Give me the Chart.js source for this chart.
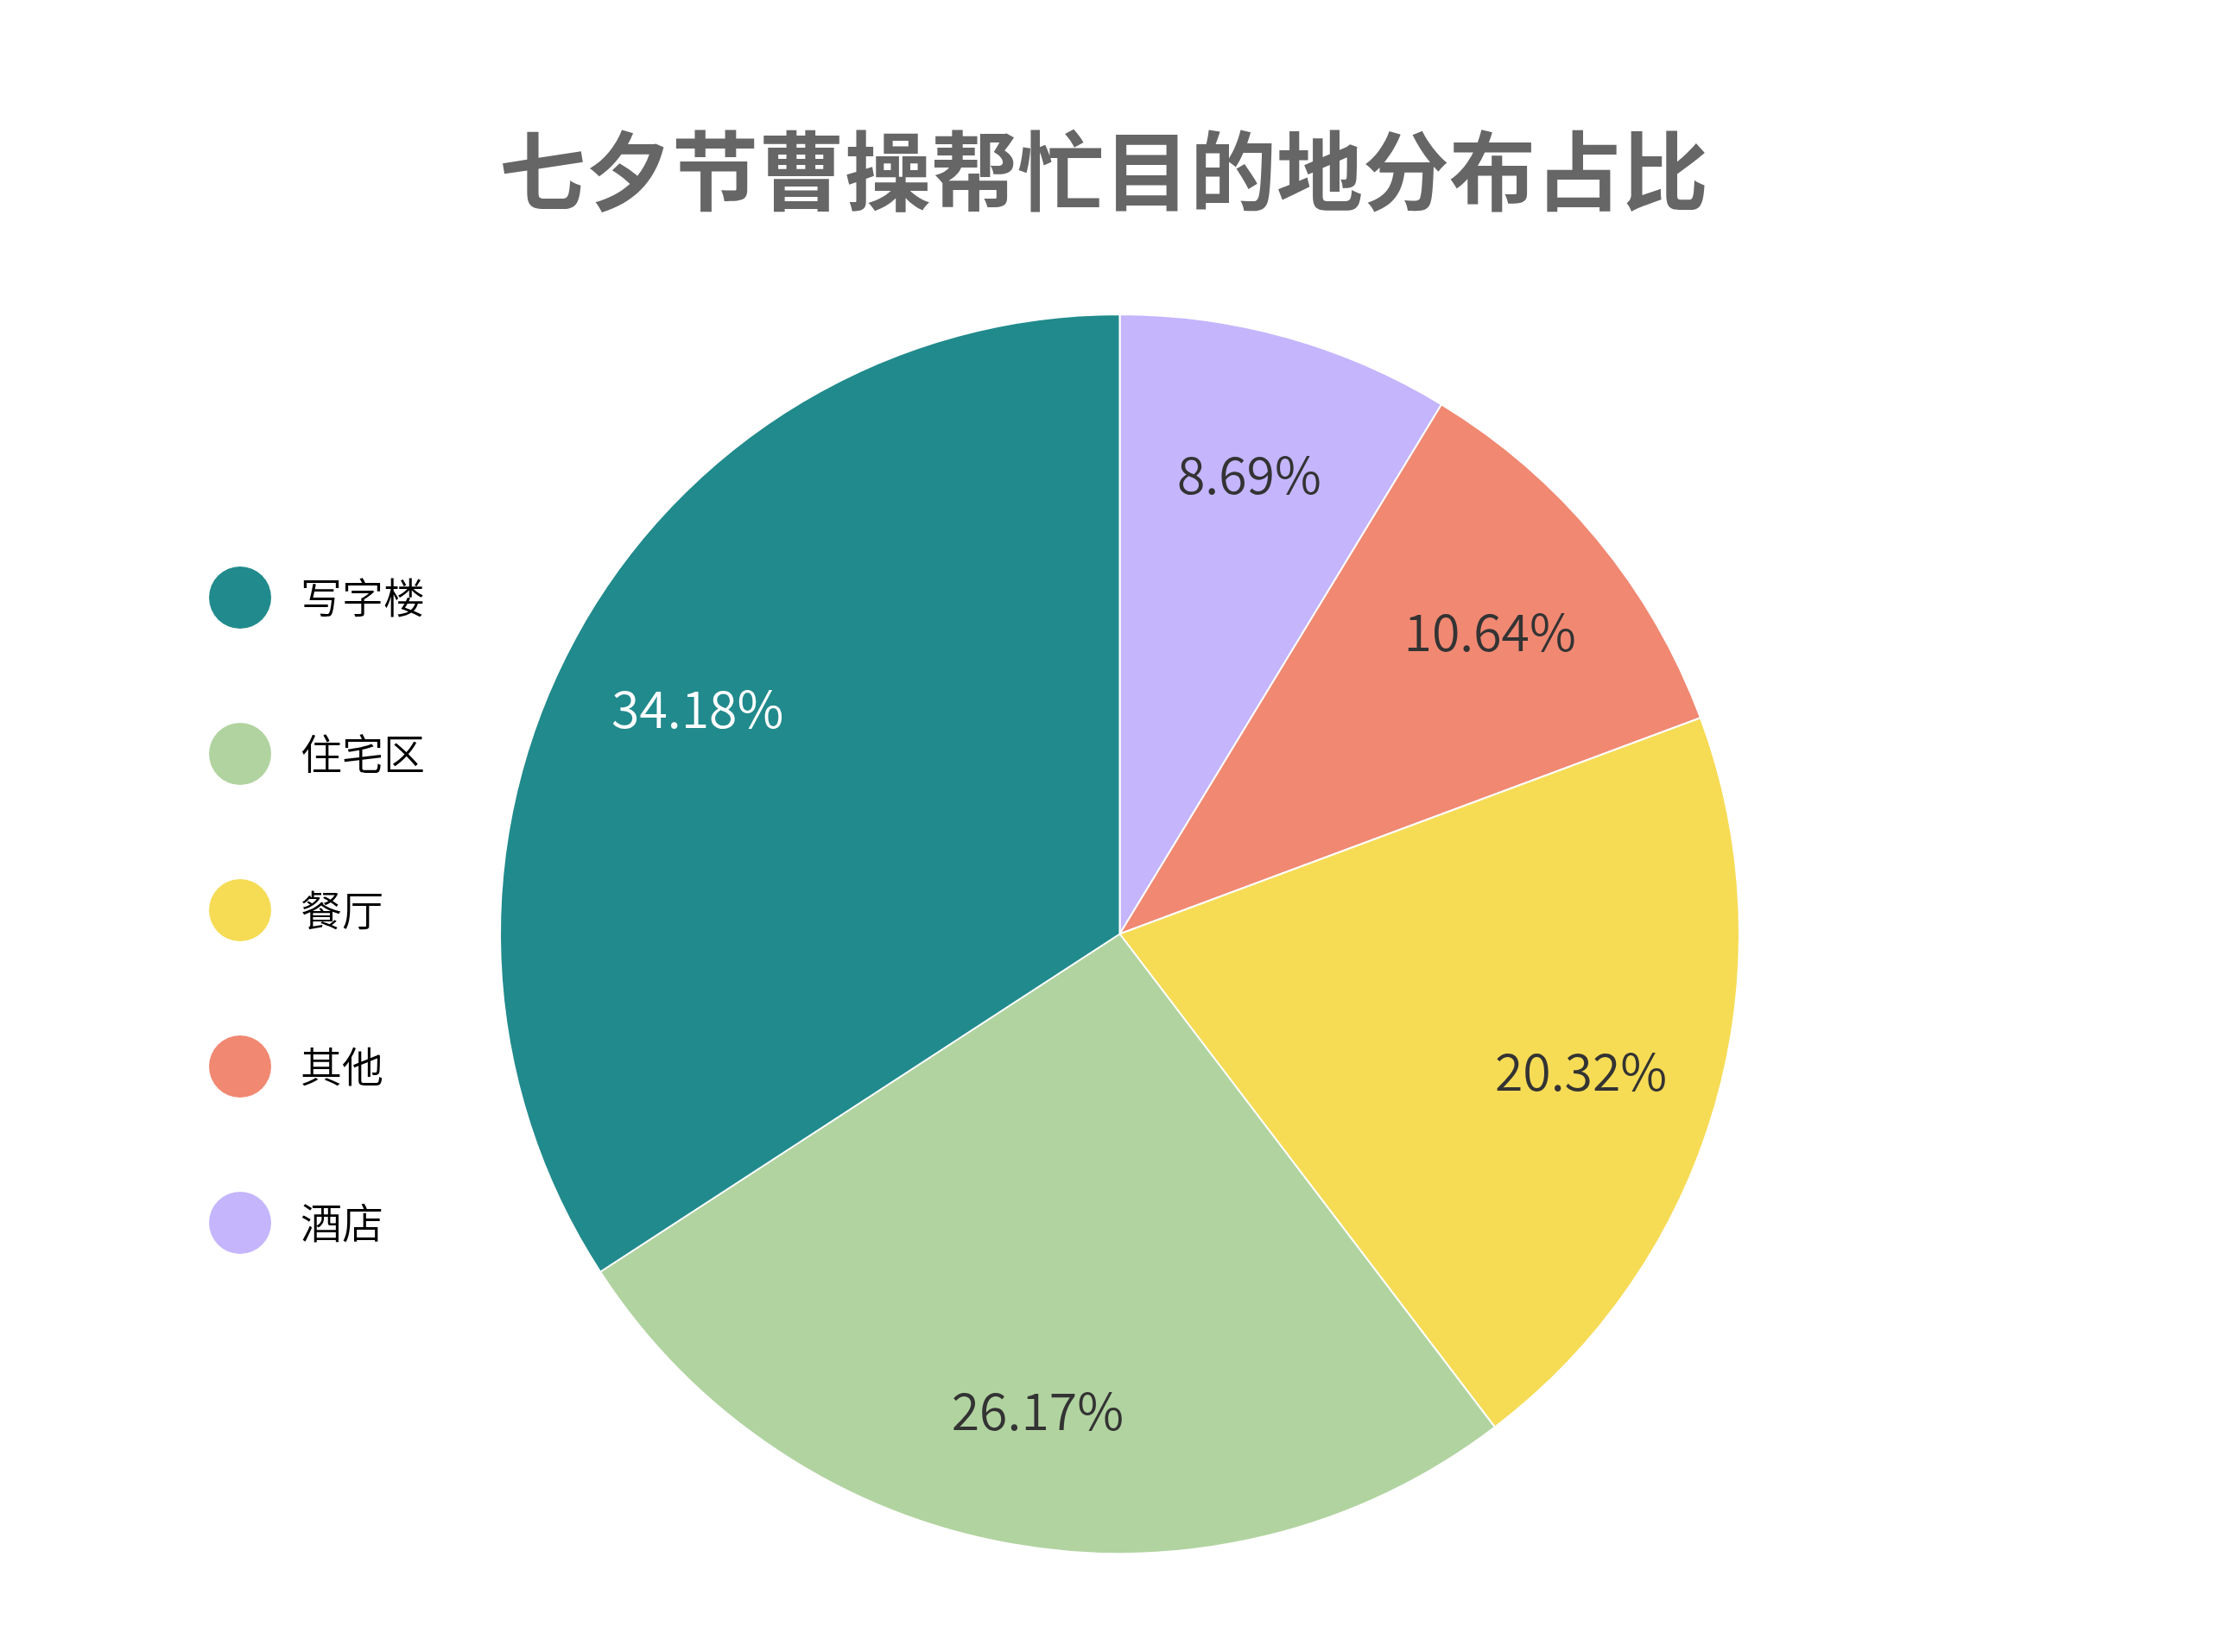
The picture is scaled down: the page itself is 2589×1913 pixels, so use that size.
<!DOCTYPE html>
<html>
<head>
<meta charset="utf-8">
<script src="https://cdn.jsdelivr.net/npm/chart.js@4.4.1/dist/chart.umd.min.js"></script>
<style>
  html, body { margin: 0; padding: 0; background: #ffffff; }
  canvas { display: block; }
</style>
</head>
<body>
<canvas id="c" width="2589" height="1913"></canvas>
<script>
// ---- data (legend order) ----
const categories = ['写字楼', '住宅区', '餐厅', '其他', '酒店'];
const shares = [34.18, 26.17, 20.32, 10.64, 8.69];
const sliceColors = ['#218A8C', '#B1D3A0', '#F6DB55', '#F08872', '#C4B5FD'];
const labelColors = ['#ffffff', '#333333', '#333333', '#333333', '#333333'];
const titleText = '七夕节曹操帮忙目的地分布占比';

// slices run counter-clockwise from 12 o'clock: feed the library the reversed order
const rev = a => a.slice().reverse();
const chartLabels = rev(categories);
const chartValues = rev(shares);
const chartColors = rev(sliceColors);
const chartLabelColors = rev(labelColors);

const FONT = '"Noto Sans CJK SC", "Noto Sans", sans-serif';

function makeDot(color) {
  const c = document.createElement('canvas');
  c.width = 72; c.height = 72;
  const g = c.getContext('2d');
  g.fillStyle = color;
  g.beginPath();
  g.arc(36, 36, 36, 0, Math.PI * 2);
  g.fill();
  return c;
}

const sliceLabels = {
  id: 'sliceLabels',
  afterDatasetsDraw(chart) {
    const meta = chart.getDatasetMeta(0);
    const ctx = chart.ctx;
    ctx.save();
    ctx.font = '350 59px ' + FONT;
    ctx.textAlign = 'center';
    ctx.textBaseline = 'middle';
    meta.data.forEach((arc, i) => {
      const p = arc.getProps(['x', 'y', 'startAngle', 'endAngle', 'outerRadius'], true);
      const mid = (p.startAngle + p.endAngle) / 2;
      const r = p.outerRadius * 0.775;
      ctx.fillStyle = chartLabelColors[i];
      ctx.fillText(chartValues[i].toFixed(2) + '%', p.x + Math.cos(mid) * r, p.y + Math.sin(mid) * r + 4);
    });
    ctx.restore();
  }
};

// the legend only reserves a narrow strip in the layout; widen its drawing box so it is not clipped
const legendWiden = {
  id: 'legendWiden',
  afterLayout(chart) {
    const lg = chart.legend;
    if (lg) { lg.width = 480; lg.right = lg.left + 480; }
  }
};

const baseGen = (Chart.overrides.pie || Chart.overrides.doughnut).plugins.legend.labels.generateLabels;

new Chart(document.getElementById('c'), {
  type: 'pie',
  data: {
    labels: chartLabels,
    datasets: [{
      data: chartValues,
      backgroundColor: chartColors,
      borderColor: '#ffffff',
      borderWidth: 2
    }]
  },
  options: {
    responsive: false,
    animation: false,
    events: [],
    layout: { padding: { top: 0, left: 99, right: 132, bottom: 113 } },
    plugins: {
      tooltip: { enabled: false },
      title: {
        display: true,
        text: titleText,
        color: '#666666',
        font: { family: FONT, size: 100, weight: 'bold', lineHeight: 1.2 },
        padding: { top: 138, bottom: 105 }
      },
      legend: {
        display: true,
        position: 'left',
        reverse: true,
        maxWidth: 37,
        title: { display: true, text: ' ', font: { size: 10, lineHeight: 1 }, padding: { top: 298, bottom: 0 } },
        labels: {
          usePointStyle: true,
          pointStyleWidth: 92,
          padding: 133,
          color: '#000000',
          textAlign: 'left',
          font: { family: FONT, size: 48, weight: 350 },
          generateLabels(chart) {
            const items = baseGen(chart);
            items.forEach(it => { it.pointStyle = makeDot(it.fillStyle); });
            return items;
          }
        }
      }
    }
  },
  plugins: [sliceLabels, legendWiden]
});
</script>
</body>
</html>
